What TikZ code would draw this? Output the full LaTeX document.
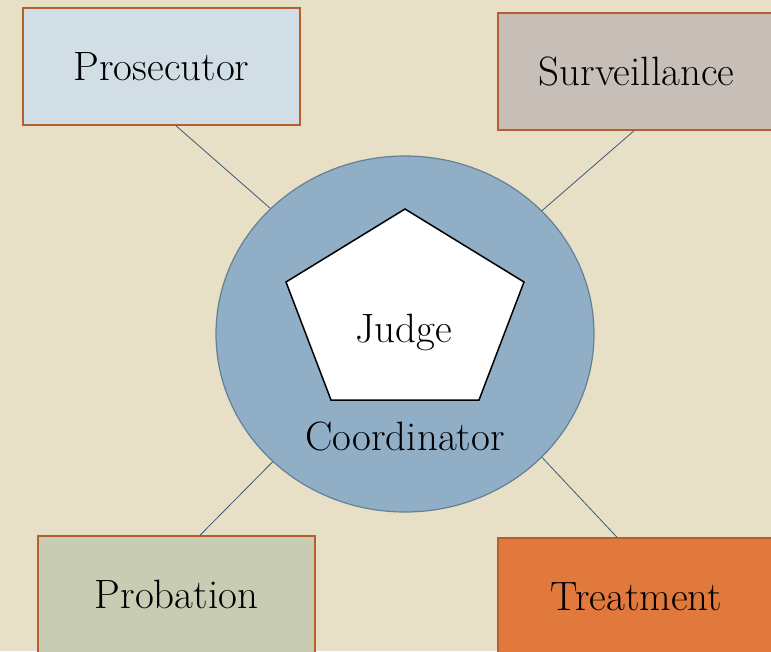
\documentclass[tikz,border=0pt]{standalone}
\usepackage{tikz}
\usetikzlibrary{positioning}
\usetikzlibrary{shapes.geometric}

\definecolor{bgbeige}{RGB}{231,224,199}
\definecolor{prosfill}{RGB}{209,222,230}
\definecolor{survfill}{RGB}{199,190,184}
\definecolor{probfill}{RGB}{200,204,179}
\definecolor{treatfill}{RGB}{226,121,60}
\definecolor{boxedge}{RGB}{180,95,45}
\definecolor{circfill}{RGB}{145,174,199}
\definecolor{circedge}{RGB}{100,128,148}
\definecolor{linkblue}{RGB}{60,90,110}

\begin{document}
\begin{tikzpicture}[x=1pt,y=-1pt,
  main text/.style={font=\fontsize{41}{48}\selectfont},
  role node/.style={main text,draw=boxedge,line width=1.5pt,
    minimum width=277pt,minimum height=117pt},
  hub node/.style={ellipse,draw=circedge,fill=circfill,line width=1.2pt,
    minimum width=378pt,minimum height=356pt},
  link/.style={draw=linkblue,line width=0.8pt}]

  \fill[bgbeige] (0,0) rectangle (771,651);
  \useasboundingbox (0,0) rectangle (771,651);

  \node[hub node] (hub) at (405,334) {};
  \node[role node,fill=prosfill] (pros) at (161.5,66.5) {Prosecutor};
  \node[role node,fill=survfill] (surv) at (636.5,71.5) {Surveillance};
  \node[role node,fill=probfill] (prob) at (176.5,594.5) {Probation};
  \node[role node,fill=treatfill] (treat) at (636.5,596.5) {Treatment};

  % judge pentagon inside the hub
  \draw[line width=1.5pt,fill=white] (405,209) -- (524,282) -- (479,400)
    -- (331,400) -- (286,282) -- cycle;
  \node[main text,anchor=base] (judge) at (404,342) {Judge};
  \node[main text,anchor=base] (coordtext) at (405,450) {Coordinator};

  \draw[link] ([xshift=14.5pt]pros.south) -- (hub.137.7);
  \draw[link] ([xshift=-2.5pt]surv.south) -- (hub.42.3);
  \draw[link] ([xshift=23.5pt]prob.north) -- (hub.224);
  \draw[link] ([xshift=-19.5pt]treat.north) -- (hub.318.5);
\end{tikzpicture}
\end{document}
